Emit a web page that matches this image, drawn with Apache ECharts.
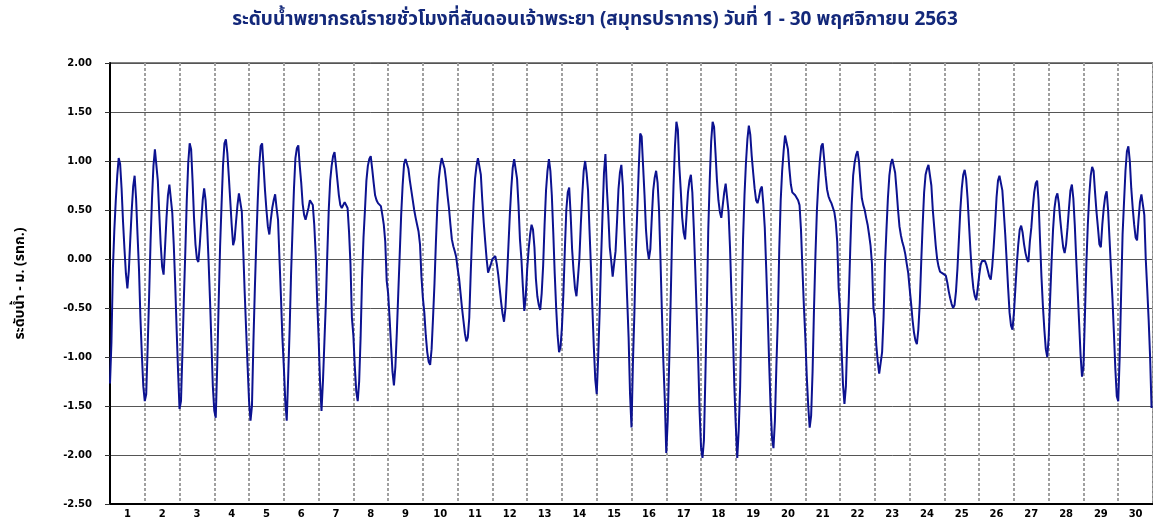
<!DOCTYPE html>
<html>
<head>
<meta charset="utf-8">
<script src="https://cdn.jsdelivr.net/npm/echarts@6/dist/echarts.min.js"></script>
<style>
  html, body { margin: 0; padding: 0; background: #fff; }
  #chart { width: 1153px; height: 529px; }
</style>
</head>
<body>
<div id="chart"></div>
<script>
// ---- DATA ----
const chartTitle = 'ระดับน้ำพยากรณ์รายชั่วโมงที่สันดอนเจ้าพระยา (สมุทรปราการ) วันที่ 1 - 30 พฤศจิกายน 2563';
const yAxisTitle = 'ระดับน้ำ - ม. (รทก.)';
const dayLabels = ['1','2','3','4','5','6','7','8','9','10','11','12','13','14','15',
                   '16','17','18','19','20','21','22','23','24','25','26','27','28','29','30'];
const levelMin = -2.5, levelMax = 2.0, levelStep = 0.5;
const hoursPerDay = 24;
// hourly water level (m MSL), one row per day, hours 0..23
const hourlyLevel = [
  -1.27,-0.85,-0.10,0.30,0.60,0.85,1.03,0.97,0.72,0.38,0.10,-0.15,-0.30,-0.12,0.20,0.50,0.74,0.85,0.62,0.25,-0.10,-0.60,-0.98,-1.30,
  -1.45,-1.38,-0.90,-0.38,0.18,0.62,0.95,1.12,1.10,0.80,0.47,0.15,-0.08,-0.16,0.12,0.42,0.65,0.76,0.74,0.47,0.15,-0.25,-0.72,-1.15,
  -1.53,-1.45,-0.95,-0.40,0.08,0.60,0.98,1.18,1.12,0.80,0.42,0.15,0.00,-0.03,0.15,0.38,0.60,0.72,0.60,0.35,0.00,-0.40,-0.85,-1.30,
  -1.55,-1.62,-1.10,-0.45,0.13,0.55,0.95,1.18,1.22,1.08,0.85,0.60,0.35,0.14,0.20,0.38,0.55,0.67,0.68,0.48,0.08,-0.35,-0.73,-1.10,
  -1.45,-1.65,-1.50,-0.85,-0.30,0.18,0.60,0.95,1.15,1.18,0.95,0.70,0.50,0.33,0.25,0.40,0.52,0.60,0.66,0.52,0.40,0.00,-0.38,-0.80,
  -1.10,-1.45,-1.65,-1.20,-0.72,-0.15,0.30,0.72,1.03,1.13,1.16,0.95,0.78,0.56,0.45,0.40,0.42,0.52,0.60,0.62,0.55,0.35,0.05,-0.42,
  -0.80,-1.25,-1.55,-1.25,-0.85,-0.45,0.05,0.50,0.80,0.95,1.05,1.09,0.95,0.80,0.65,0.55,0.52,0.54,0.58,0.59,0.52,0.28,-0.05,-0.60,
  -0.78,-1.10,-1.35,-1.45,-1.25,-0.80,-0.20,0.22,0.50,0.80,0.95,1.02,1.05,0.92,0.78,0.65,0.60,0.57,0.56,0.54,0.45,0.35,0.18,-0.22,
  -0.35,-0.60,-0.88,-1.15,-1.29,-1.10,-0.75,-0.35,0.05,0.45,0.75,0.97,1.02,1.03,0.92,0.80,0.70,0.60,0.50,0.42,0.35,0.28,0.15,-0.18,
  -0.40,-0.55,-0.78,-0.95,-1.05,-1.08,-0.92,-0.60,-0.25,0.18,0.55,0.82,0.95,1.03,1.03,0.92,0.80,0.65,0.52,0.35,0.20,0.13,0.08,0.02,
  -0.10,-0.20,-0.35,-0.50,-0.63,-0.76,-0.84,-0.80,-0.60,-0.15,0.25,0.57,0.82,0.95,1.03,1.04,0.86,0.60,0.37,0.18,0.00,-0.14,-0.14,-0.05,
  0.00,0.02,0.03,-0.05,-0.16,-0.30,-0.44,-0.56,-0.64,-0.50,-0.20,0.12,0.45,0.72,0.93,1.02,1.03,0.82,0.55,0.20,0.00,-0.28,-0.53,-0.38,
  -0.10,0.10,0.25,0.35,0.30,0.12,-0.20,-0.38,-0.47,-0.52,-0.35,-0.07,0.35,0.70,0.90,1.02,0.90,0.65,0.27,-0.15,-0.50,-0.78,-0.95,-0.90,
  -0.69,-0.35,0.10,0.50,0.68,0.73,0.45,0.10,-0.12,-0.30,-0.38,-0.20,0.00,0.35,0.65,0.90,1.00,0.88,0.70,0.30,-0.08,-0.50,-0.90,-1.23,
  -1.38,-1.00,-0.55,0.00,0.45,0.88,1.07,0.72,0.45,0.12,-0.02,-0.18,-0.20,0.08,0.38,0.71,0.88,0.96,0.75,0.35,0.00,-0.40,-0.80,-1.38,
  -1.72,-1.05,-0.55,0.08,0.50,0.92,1.28,1.25,0.95,0.65,0.30,0.10,0.00,0.10,0.42,0.70,0.83,0.90,0.78,0.50,0.00,-0.55,-1.05,-1.44,
  -1.98,-1.65,-1.07,-0.45,0.22,0.75,1.15,1.40,1.32,0.95,0.70,0.42,0.27,0.20,0.45,0.68,0.80,0.86,0.68,0.32,-0.10,-0.55,-1.00,-1.55,
  -1.92,-2.03,-1.85,-1.20,-0.50,0.30,0.80,1.20,1.40,1.35,1.08,0.80,0.60,0.48,0.42,0.55,0.68,0.77,0.76,0.48,0.12,-0.35,-0.75,-1.30,
  -1.70,-2.03,-1.75,-1.30,-0.50,0.20,0.65,0.98,1.22,1.36,1.27,1.05,0.88,0.72,0.60,0.57,0.63,0.71,0.74,0.56,0.32,-0.10,-0.55,-1.05,
  -1.50,-1.82,-1.93,-1.65,-1.10,-0.62,0.10,0.60,0.90,1.10,1.26,1.27,1.12,0.92,0.76,0.68,0.66,0.65,0.64,0.60,0.55,0.30,-0.10,-0.48,
  -0.80,-1.20,-1.50,-1.72,-1.60,-1.15,-0.50,0.05,0.50,0.78,1.00,1.15,1.18,1.02,0.85,0.71,0.64,0.60,0.57,0.55,0.48,0.38,0.18,-0.30,
  -0.52,-0.92,-1.28,-1.48,-1.30,-0.80,-0.41,0.10,0.55,0.85,0.98,1.06,1.10,1.00,0.80,0.62,0.55,0.50,0.42,0.35,0.25,0.14,-0.05,-0.50,
  -0.60,-0.88,-1.05,-1.17,-1.18,-0.95,-0.60,-0.05,0.30,0.62,0.85,0.97,1.02,1.02,0.88,0.70,0.50,0.33,0.24,0.17,0.12,0.05,-0.05,-0.14,
  -0.30,-0.45,-0.62,-0.75,-0.83,-0.87,-0.72,-0.45,-0.03,0.35,0.68,0.86,0.92,0.96,0.96,0.75,0.50,0.32,0.14,0.00,-0.08,-0.13,-0.15,-0.15,
  -0.15,-0.17,-0.24,-0.33,-0.40,-0.46,-0.50,-0.47,-0.33,-0.10,0.20,0.50,0.72,0.86,0.91,0.82,0.62,0.35,0.08,-0.15,-0.30,-0.38,-0.42,-0.30,
  -0.17,-0.06,-0.02,-0.01,-0.02,-0.06,-0.12,-0.18,-0.21,-0.08,0.12,0.36,0.63,0.80,0.85,0.86,0.70,0.48,0.25,-0.02,-0.30,-0.55,-0.68,-0.72,
  -0.55,-0.30,-0.05,0.15,0.30,0.34,0.27,0.15,0.06,0.00,-0.03,0.18,0.32,0.52,0.68,0.77,0.80,0.60,0.20,-0.18,-0.48,-0.72,-0.92,-1.00,
  -0.80,-0.40,-0.02,0.30,0.52,0.63,0.67,0.57,0.40,0.25,0.12,0.06,0.15,0.32,0.52,0.70,0.76,0.62,0.35,0.00,-0.32,-0.65,-0.98,-1.20,
  -1.10,-0.58,-0.05,0.35,0.65,0.85,0.94,0.90,0.68,0.48,0.32,0.15,0.12,0.35,0.52,0.64,0.69,0.50,0.20,-0.10,-0.40,-0.75,-1.12,-1.40,
  -1.45,-1.00,-0.35,0.25,0.58,0.90,1.10,1.15,1.00,0.72,0.52,0.35,0.22,0.19,0.40,0.58,0.66,0.65,0.45,0.00,-0.30,-0.62,-1.00,-1.52
];

// ---- CHART ----
const totalHours = dayLabels.length * hoursPerDay;
const seriesData = hourlyLevel.map((v, i) => [i, v]);
const labelFont = 'DejaVu Sans, Verdana, sans-serif';
const thaiFont = 'Tahoma, "Noto Sans Thai", "Noto Sans", sans-serif';

const chart = echarts.init(document.getElementById('chart'), null, { renderer: 'canvas' });
chart.setOption({
  animation: false,
  backgroundColor: '#ffffff',
  title: {
    text: chartTitle,
    left: 590,
    textAlign: 'center',
    top: 7,
    textStyle: { fontFamily: thaiFont, fontSize: 19, fontWeight: 'bold', color: '#13287a' }
  },
  grid: {
    left: 110, right: -1, top: 63, bottom: 25,
    show: true, borderColor: '#000', borderWidth: 1, backgroundColor: 'transparent'
  },
  xAxis: [
    { type: 'value', min: 0, max: totalHours, show: false },
    {
      type: 'category', data: dayLabels, boundaryGap: true, position: 'bottom',
      axisLine: { show: true, lineStyle: { color: '#000', width: 2 } },
      axisTick: { show: false, interval: 0 },
      axisLabel: { interval: 0, margin: 5, color: '#000', fontFamily: labelFont, fontSize: 10, fontWeight: 'bold' },
      splitLine: { show: true, interval: 0, lineStyle: { color: '#a0a0a0', width: 2, type: [3, 2] } }
    }
  ],
  yAxis: {
    type: 'value', min: levelMin, max: levelMax, interval: levelStep,
    name: yAxisTitle, nameLocation: 'middle', nameGap: 82, nameRotate: 90,
    nameTextStyle: { fontFamily: thaiFont, fontSize: 14, fontWeight: 'bold', color: '#000' },
    axisLine: { show: true, lineStyle: { color: '#000', width: 2 } },
    axisTick: { show: true, length: 5, lineStyle: { color: '#333' } },
    axisLabel: { margin: 18, color: '#000', fontFamily: labelFont, fontSize: 10, fontWeight: 'bold',
                 formatter: v => v.toFixed(2) },
    splitLine: { show: true, lineStyle: { color: '#555', width: 1 } }
  },
  series: [{
    type: 'line', xAxisIndex: 0, data: seriesData,
    showSymbol: false, smooth: false,
    lineStyle: { color: '#0c1290', width: 2 }
  }]
});
</script>
</body>
</html>
